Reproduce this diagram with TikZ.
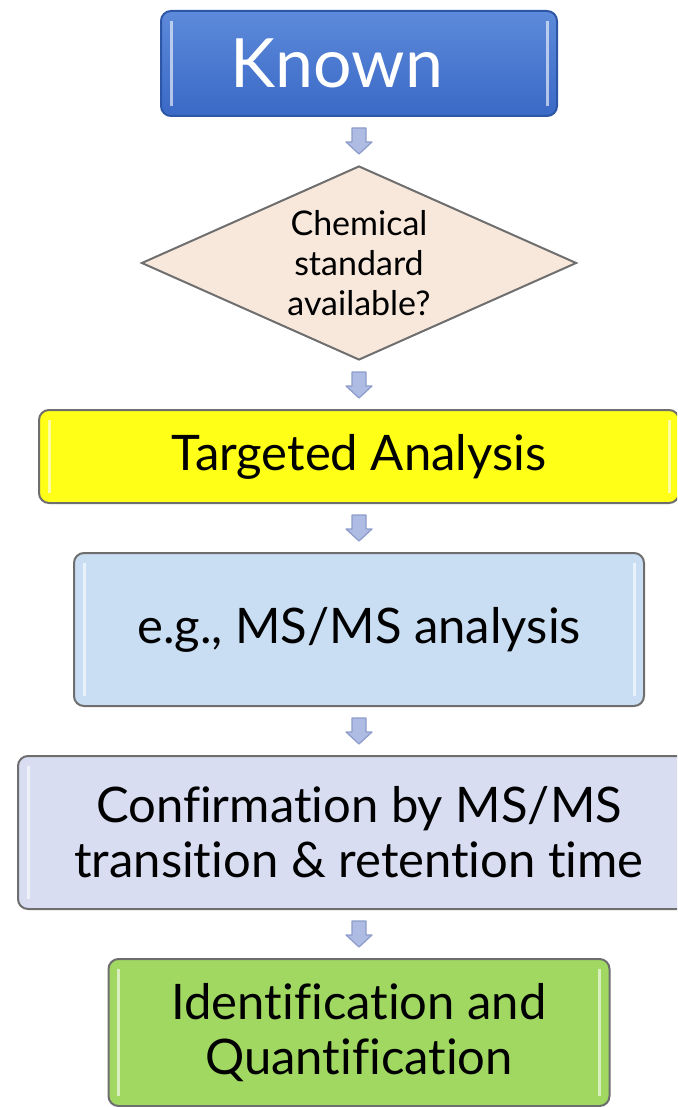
\documentclass[tikz,border=0pt]{standalone}
\usepackage{fontspec}
\setmainfont{Lato}[Ligatures=NoCommon]
\usepackage{xcolor}
\usepackage{tikz}
\usetikzlibrary{positioning,calc,shapes.geometric}

\definecolor{knowntop}{HTML}{5D8ADA}
\definecolor{knownbot}{HTML}{3A69C6}
\definecolor{knownrim}{HTML}{2E56A6}
\definecolor{rim}{HTML}{6E6E6E}
\definecolor{peach}{HTML}{F8E8DC}
\definecolor{lemon}{HTML}{FFFF17}
\definecolor{skyblue}{HTML}{C9DEF3}
\definecolor{lavender}{HTML}{D8DDF1}
\definecolor{lime}{HTML}{A0D862}
\definecolor{arrowfill}{HTML}{AEBBE2}
\definecolor{arrowrim}{HTML}{8C9BCB}

\begin{document}
\begin{tikzpicture}[x=0.5pt, y=-0.5pt, node distance=24pt, box/.style = {rectangle, draw=rim, line width=1pt, rounded corners=5pt, align=center, inner sep=0pt, font=\fontsize{24.5}{27.5}\selectfont, bevel}, bevel/.style = {path picture={\draw[white, opacity=.6, line width=1.5pt] ([shift={(5pt,-5pt)}]path picture bounding box.north west) -- ([shift={(5pt,5pt)}]path picture bounding box.south west) ([shift={(-5pt,-5pt)}]path picture bounding box.north east) -- ([shift={(-5pt,5pt)}]path picture bounding box.south east);}}, pics/blockarrow/.style = {code={\draw[fill=arrowfill, draw=arrowrim, line width=.6pt, line join=round] (-3.5pt,6.5pt) -- (3.5pt,6.5pt) -- (3.5pt,-.5pt) -- (6.5pt,-.5pt) -- (0pt,-6.5pt) -- (-6.5pt,-.5pt) -- (-3.5pt,-.5pt) -- cycle;}}]

\clip (0,0) rectangle (677,1107);

\node[box, draw=knownrim, top color=knowntop, bottom color=knownbot, text=white, minimum width=198pt, minimum height=52.5pt, font=\fontsize{34}{40}\selectfont] (known) at (359,63.5) {Known\hspace*{22pt}};
\node[diamond, aspect=2.24, draw=rim, line width=1pt, fill=peach, inner sep=0pt, minimum width=217.5pt, minimum height=97pt, align=center, font=\fontsize{17}{20}\selectfont] (std) [below=of known] {Chemical\\standard\\available?};
\node[box, fill=lemon, minimum width=320pt, minimum height=46.5pt] (target) [below=of std] {Targeted Analysis};
\node[box, fill=skyblue, minimum width=285pt, minimum height=76.5pt] (msms) [below=of target] {e.g., MS/MS analysis};
\node[box, fill=lavender, minimum width=341pt, minimum height=76.5pt] (confirm) [below=of msms] {Confirmation by MS/MS\\transition \& retention time};
\node[box, fill=lime, minimum width=250.5pt, minimum height=73.5pt] (ident) [below=of confirm] {Identification and\\Quantification};

\foreach \a/\b in {known/std, std/target, target/msms, msms/confirm, confirm/ident}
    \pic at ($(\a.south)!.5!(\b.north)$) {blockarrow};
\end{tikzpicture}
\end{document}
